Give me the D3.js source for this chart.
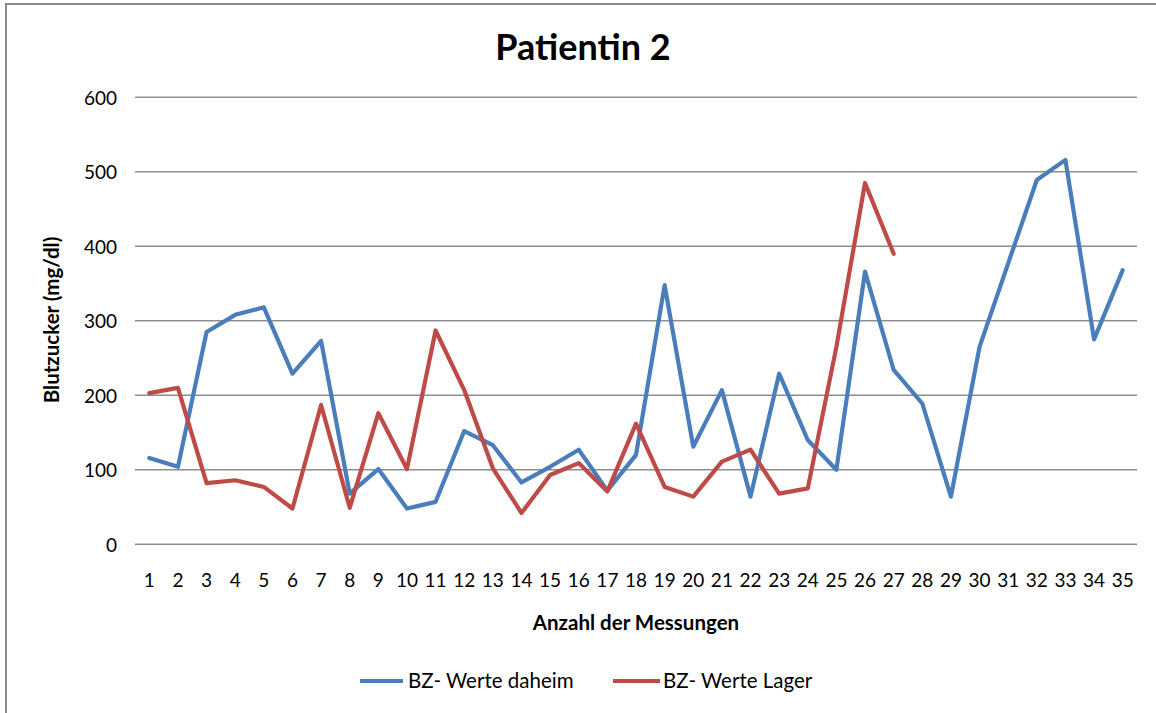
<!DOCTYPE html>
<html>
<head>
<meta charset="utf-8">
<script src="https://cdn.jsdelivr.net/npm/d3@7"></script>
<style>
  html, body { margin: 0; padding: 0; background: #fff; }
  svg { display: block; }
  text { font-family: Lato, "Open Sans", sans-serif; fill: #000; }
</style>
</head>
<body>
<svg id="chart" width="1156" height="713"></svg>
<script>
const categories = d3.range(1, 36).map(String);
const daheim = [116,104,285,308,318,229,273,68,101,48,57,152,133,83,104,127,72,120,348,131,207,64,229,140,100,366,234,189,64,265,377,489,516,275,368];
const lager = [203,210,82,86,77,48,187,49,176,101,287,207,102,42,93,109,71,162,77,64,111,127,68,75,265,485,390];
const yTicks = [0,100,200,300,400,500,600];
const seriesNames = ["BZ- Werte daheim", "BZ- Werte Lager"];
const colors = ["#4A7EBB", "#BE4B48"];

const svg = d3.select("#chart");

// outer frame (left & top visible)
svg.append("rect").attr("x", 6).attr("y", 4).attr("width", 1160).attr("height", 720)
  .attr("fill", "none").attr("stroke", "#8c8c8c").attr("stroke-width", 2);

const x = d3.scaleBand().domain(categories).range([135, 1137]);
const y = d3.scaleLinear().domain([0, 600]).range([544.3, 97.3]);

// gridlines
svg.append("g").selectAll("line").data(yTicks).join("line")
  .attr("x1", 135).attr("x2", 1137)
  .attr("y1", d => y(d)).attr("y2", d => y(d))
  .attr("stroke", "#8e8e8e").attr("stroke-width", 1.6);

// y axis labels
const yAxis = d3.axisLeft(y).tickValues(yTicks).tickSize(0).tickPadding(0);
const gy = svg.append("g").attr("transform", "translate(117,0)").call(yAxis);
gy.select(".domain").remove();
gy.selectAll("text").attr("font-size", 19).attr("font-family", "Lato").attr("fill", "#000").attr("dy", "0.36em");

// x axis labels
const xAxis = d3.axisBottom(x).tickSize(0).tickPadding(0);
const gx = svg.append("g").attr("transform", "translate(0,572)").call(xAxis);
gx.select(".domain").remove();
gx.selectAll("text").attr("font-size", 19).attr("font-family", "Lato").attr("fill", "#000").attr("dy", "0.78em");

// lines
const line = d3.line().x((d, i) => x(categories[i]) + x.bandwidth() / 2).y(d => y(d));
[daheim, lager].forEach((s, k) => {
  svg.append("path").datum(s).attr("d", line)
    .attr("fill", "none").attr("stroke", colors[k]).attr("stroke-width", 4.2)
    .attr("stroke-linejoin", "round").attr("stroke-linecap", "round");
});

// title
svg.append("text").attr("x", 583).attr("y", 60).attr("text-anchor", "middle")
  .attr("font-size", 36).attr("font-weight", "bold").text("Patientin 2");

// axis titles
svg.append("text").attr("x", 636).attr("y", 630).attr("text-anchor", "middle")
  .attr("font-size", 20.5).attr("font-weight", "bold").text("Anzahl der Messungen");
svg.append("text").attr("transform", "translate(59,320) rotate(-90)").attr("text-anchor", "middle")
  .attr("font-size", 20.5).attr("font-weight", "bold").text("Blutzucker (mg/dl)");

// legend
const legend = [{x1: 360, x2: 403, tx: 408}, {x1: 613, x2: 660, tx: 663}];
legend.forEach((l, k) => {
  svg.append("line").attr("x1", l.x1).attr("x2", l.x2).attr("y1", 681).attr("y2", 681)
    .attr("stroke", colors[k]).attr("stroke-width", 4.2);
  svg.append("text").attr("x", l.tx).attr("y", 688).attr("font-size", 20.5).text(seriesNames[k]);
});
</script>
</body>
</html>
